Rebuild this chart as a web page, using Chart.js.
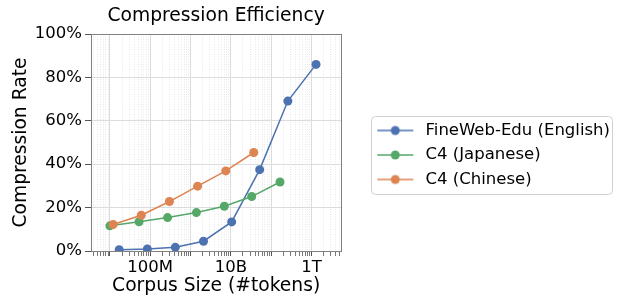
<!DOCTYPE html>
<html lang="en">
<head>
  <meta charset="UTF-8">
  <title>Compression Efficiency</title>
  <script src="https://cdn.jsdelivr.net/npm/chart.js"></script>
  <style>
    body {
      margin: 0;
      background-color: white;
    }
    .box {
      width: 620px;
      height: 301px;
      position: relative;
    }
  </style>
</head>
<body>
  <div class="box">
    <canvas id="chart"></canvas>
  </div>

  <script>
    // corpus sizes (#tokens) and compression rate (%)
    const fineWebTokens = [1.7e7, 8.5e7, 4.2e8, 2.1e9, 1.05e10, 5.2e10, 2.6e11, 1.3e12];
    const fineWebRate = [0.6, 0.9, 1.7, 4.5, 13.4, 37.5, 69.1, 86.0];
    const c4JaTokens = [1.0e7, 5.3e7, 2.7e8, 1.4e9, 6.9e9, 3.3e10, 1.66e11];
    const c4JaRate = [11.6, 13.5, 15.4, 17.7, 20.6, 25.1, 31.8];
    const c4ZhTokens = [1.2e7, 6.0e7, 3.0e8, 1.5e9, 7.5e9, 3.7e10];
    const c4ZhRate = [12.2, 16.5, 22.8, 29.9, 36.9, 45.4];

    const seriesNames = ['FineWeb-Edu (English)', 'C4 (Japanese)', 'C4 (Chinese)'];
    const seriesColors = ['#4c72b0', '#55a868', '#dd8452'];

    const xLabelValues = [1e8, 1e10, 1e12];
    const xLabelTexts = ['100M', '10B', '1T'];
    const yTicks = [0, 20, 40, 60, 80, 100];

    const xMin = 3.4e6, xMax = 5.5e12;

    Chart.defaults.font.family = 'DejaVu Sans';
    Chart.defaults.color = '#000';

    function isDecade(v) {
      const l = Math.log10(v);
      return Math.abs(l - Math.round(l)) < 1e-9;
    }

    // legend marker: short line with a dot, left part kept empty as spacing
    function makeMarker(color) {
      const c = document.createElement('canvas');
      c.width = 68;
      c.height = 12;
      const g = c.getContext('2d');
      g.strokeStyle = color;
      g.lineWidth = 1.5;
      g.beginPath();
      g.moveTo(28, 6);
      g.lineTo(64, 6);
      g.stroke();
      g.fillStyle = color;
      g.beginPath();
      g.arc(46, 6, 4.5, 0, Math.PI * 2);
      g.fill();
      return c;
    }

    function toPoints(xs, ys) {
      return xs.map((x, i) => ({ x: x, y: ys[i] }));
    }

    const framePlugin = {
      id: 'frames',
      afterDraw(chart) {
        const ctx = chart.ctx;
        const a = chart.chartArea;
        ctx.save();
        ctx.strokeStyle = '#808080';
        ctx.lineWidth = 1;
        ctx.strokeRect(Math.round(a.left) + 0.5, Math.round(a.top) + 0.5,
          Math.round(a.right - a.left), Math.round(a.bottom - a.top));

        // legend frame
        const hb = chart.legend.legendHitBoxes;
        if (hb && hb.length) {
          let l = Infinity, r = -Infinity;
          hb.forEach(h => { l = Math.min(l, h.left); r = Math.max(r, h.left + h.width); });
          const x0 = Math.round(l + 22) + 0.5, x1 = Math.round(r + 2) + 0.5;
          const y0 = Math.round(hb[0].top + hb[0].height / 2 - 15) + 0.5;
          const last = hb[hb.length - 1];
          const y1 = Math.round(last.top + last.height / 2 + 14.5) + 0.5;
          const rad = 4;
          ctx.strokeStyle = '#d0d0d0';
          ctx.beginPath();
          ctx.moveTo(x0 + rad, y0);
          ctx.lineTo(x1 - rad, y0);
          ctx.arcTo(x1, y0, x1, y0 + rad, rad);
          ctx.lineTo(x1, y1 - rad);
          ctx.arcTo(x1, y1, x1 - rad, y1, rad);
          ctx.lineTo(x0 + rad, y1);
          ctx.arcTo(x0, y1, x0, y1 - rad, rad);
          ctx.lineTo(x0, y0 + rad);
          ctx.arcTo(x0, y0, x0 + rad, y0, rad);
          ctx.stroke();
        }
        ctx.restore();
      }
    };

    const allTokens = [fineWebTokens, c4JaTokens, c4ZhTokens];
    const allRates = [fineWebRate, c4JaRate, c4ZhRate];

    const datasets = seriesNames.map((name, i) => ({
      label: name,
      data: toPoints(allTokens[i], allRates[i]),
      borderColor: seriesColors[i],
      backgroundColor: seriesColors[i],
      pointBackgroundColor: seriesColors[i],
      pointBorderWidth: 0,
      pointRadius: 4.5,
      borderWidth: 1.5,
      pointStyle: 'circle',
      legendMarker: makeMarker(seriesColors[i]),
      order: 3 - i
    }));

    new Chart(document.getElementById('chart'), {
      type: 'line',
      data: { datasets: datasets },
      plugins: [framePlugin],
      options: {
        responsive: true,
        maintainAspectRatio: false,
        animation: false,
        layout: { padding: { right: 0 } },
        plugins: {
          title: {
            display: true,
            text: 'Compression Efficiency',
            fullSize: false,
            font: { size: 18.7, weight: 'normal' },
            padding: { top: 5, bottom: 6.6 }
          },
          legend: {
            position: 'right',
            align: 'center',
            maxWidth: 300,
            // blank title only nudges the items down a little
            title: {
              display: true,
              text: ' ',
              font: { size: 5, lineHeight: 1 },
              padding: 2
            },
            labels: {
              usePointStyle: true,
              pointStyleWidth: 68,
              padding: 8,
              font: { size: 16.5 },
              sort: (a, b) => a.datasetIndex - b.datasetIndex,
              generateLabels(chart) {
                return chart.data.datasets.map((d, i) => ({
                  text: d.label,
                  datasetIndex: i,
                  pointStyle: d.legendMarker,
                  fillStyle: d.borderColor,
                  strokeStyle: d.borderColor,
                  lineWidth: 0,
                  fontColor: '#000',
                  hidden: false
                }));
              }
            }
          },
          tooltip: { enabled: false }
        },
        scales: {
          x: {
            type: 'logarithmic',
            min: xMin,
            max: xMax,
            afterBuildTicks(scale) {
              const ticks = [];
              for (let e = 6; e <= 12; e++) {
                for (let m = 1; m <= 9; m++) {
                  const v = m * Math.pow(10, e);
                  if (v >= xMin && v <= xMax) ticks.push({ value: v });
                }
              }
              scale.ticks = ticks;
            },
            afterFit(scale) { scale.height = 50; },
            ticks: {
              autoSkip: false,
              maxRotation: 0,
              minRotation: 0,
              padding: 2,
              font: { size: 16.5 },
              callback(value) {
                const k = xLabelValues.findIndex(v => Math.abs(v - value) / v < 1e-6);
                return k >= 0 ? xLabelTexts[k] : '';
              }
            },
            grid: {
              color: ctx => ctx.tick && isDecade(ctx.tick.value) ? '#dcdcdc' : '#e2e2e2',
              lineWidth: ctx => ctx.tick && isDecade(ctx.tick.value) ? 1 : 0.8,
              tickColor: '#555',
              tickLength: 5
            },
            border: {
              color: '#808080',
              dash: ctx => ctx.tick && !isDecade(ctx.tick.value) ? [1, 1.5] : []
            },
            title: {
              display: true,
              text: 'Corpus Size (#tokens)',
              font: { size: 18.7 },
              padding: { top: 4, bottom: 4 }
            }
          },
          y: {
            min: 0,
            max: 100,
            afterBuildTicks(scale) {
              scale.ticks = yTicks.map(v => ({ value: v }));
            },
            afterFit(scale) { scale.width = 91; },
            ticks: {
              padding: 3,
              font: { size: 16.5 },
              callback: v => v + '%'
            },
            grid: {
              color: '#dcdcdc',
              tickColor: '#555',
              tickLength: 6
            },
            border: { color: '#808080' },
            title: {
              display: true,
              text: 'Compression Rate',
              font: { size: 18.7 },
              padding: { top: 10, bottom: 10 }
            }
          }
        }
      }
    });
  </script>
</body>
</html>
